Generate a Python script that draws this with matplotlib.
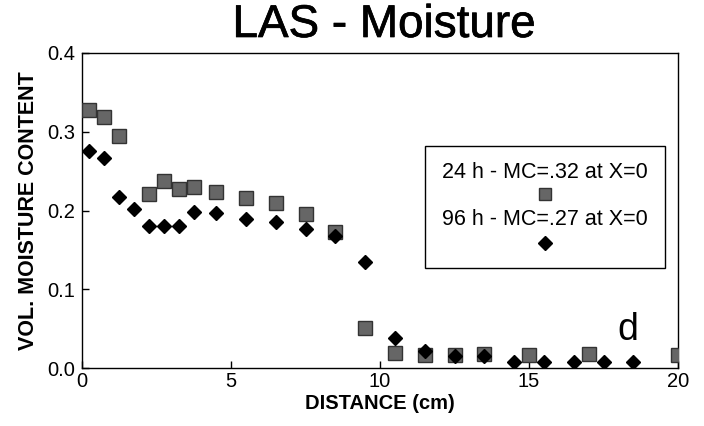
import numpy as np
import matplotlib.pyplot as plt
import matplotlib.patheffects as pe
from matplotlib.patches import Rectangle

# 24 h series (squares)
x_24 = [0.25, 0.75, 1.25, 2.25, 2.75, 3.25, 3.75, 4.5, 5.5, 6.5, 7.5, 8.5,
        9.5, 10.5, 11.5, 12.5, 13.5, 15.0, 17.0, 20.0]
mc_24 = [0.328, 0.319, 0.295, 0.221, 0.238, 0.227, 0.230, 0.224, 0.216, 0.209,
         0.196, 0.173, 0.051, 0.019, 0.017, 0.016, 0.018, 0.016, 0.018, 0.017]

# 96 h series (diamonds)
x_96 = [0.25, 0.75, 1.25, 1.75, 2.25, 2.75, 3.25, 3.75, 4.5, 5.5, 6.5, 7.5,
        8.5, 9.5, 10.5, 11.5, 12.5, 13.5, 14.5, 15.5, 16.5, 17.5, 18.5]
mc_96 = [0.276, 0.267, 0.217, 0.202, 0.180, 0.180, 0.180, 0.198, 0.197, 0.189,
         0.186, 0.177, 0.167, 0.135, 0.038, 0.021, 0.015, 0.015, 0.008, 0.008,
         0.007, 0.007, 0.007]

labels = ["24 h - MC=.32 at X=0", "96 h - MC=.27 at X=0"]

plt.rcParams['font.family'] = ['Liberation Sans', 'DejaVu Sans']

fig = plt.figure(figsize=(7.04, 4.26), dpi=100)
ax = fig.add_axes([82 / 704, 1 - 368 / 426, 596 / 704, 315 / 426])

sq_face = '#666666'
ax.plot(x_24, mc_24, 's', ms=10, mfc=sq_face, mec='#333333', mew=1.0,
        clip_on=True, zorder=3)
ax.plot(x_96, mc_96, 'D', ms=7.6, mfc='black', mec='black', clip_on=True,
        zorder=4)

ax.set_xlim(0, 20)
ax.set_ylim(0, 0.4)
ax.set_xticks([0, 5, 10, 15, 20])
ax.set_yticks([0.0, 0.1, 0.2, 0.3, 0.4])
ax.set_yticklabels(['0.0', '0.1', '0.2', '0.3', '0.4'])
ax.tick_params(direction='in', length=5, width=1, labelsize=14.5,
               top=False, right=False)
ax.tick_params(axis='x', pad=3)
ax.tick_params(axis='y', pad=5)
for s in ax.spines.values():
    s.set_linewidth(1.0)

ax.set_xlabel('DISTANCE (cm)', fontsize=14.5, fontweight='bold', labelpad=2)
ax.set_ylabel('VOL. MOISTURE CONTENT', fontsize=15.5, fontweight='bold',
              labelpad=6)

fig.text(384 / 704, 1 - 37 / 426, 'LAS - Moisture', ha='center',
         va='baseline', fontsize=33,
         path_effects=[pe.withStroke(linewidth=0.5, foreground='black')])

# legend drawn by hand: text above marker, centred
ax.add_patch(Rectangle((0.575, 0.317), 0.403, 0.388, transform=ax.transAxes,
                       fill=False, edgecolor='black', lw=1.0, zorder=5))
ax.text(0.777, 0.622, labels[0], transform=ax.transAxes, ha='center',
        va='center', fontsize=15.5, zorder=6)
ax.plot([0.777], [0.552], 's', ms=9, mfc=sq_face, mec='#333333',
        transform=ax.transAxes, clip_on=False, zorder=6)
ax.text(0.777, 0.470, labels[1], transform=ax.transAxes, ha='center',
        va='center', fontsize=15.5, zorder=6)
ax.plot([0.777], [0.397], 'D', ms=7.6, mfc='black', mec='black',
        transform=ax.transAxes, clip_on=False, zorder=6)

ax.text(0.915, 0.12, 'd', transform=ax.transAxes, ha='center', va='center',
        fontsize=27)

fig.savefig('out.png', dpi=100)
